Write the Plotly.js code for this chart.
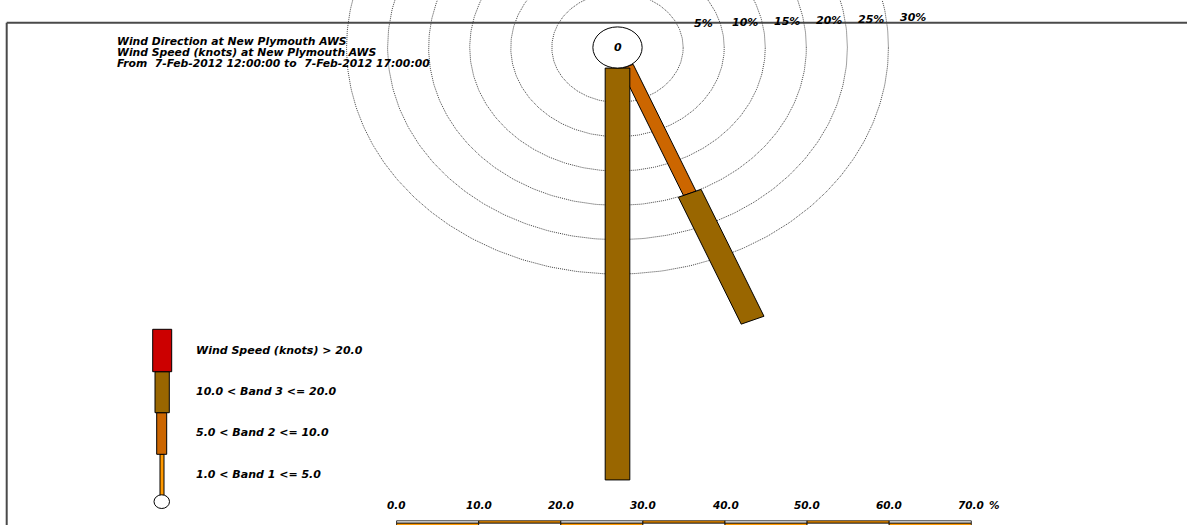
<!DOCTYPE html>
<html><head><meta charset="utf-8">
<script src="https://cdn.plot.ly/plotly-3.0.1.min.js"></script>
<style>html,body{margin:0;padding:0;background:#fff;}#chart{width:1187px;height:525px;}</style>
</head><body><div id="chart"></div>
<script>
// ---------------- data ----------------
const directions = ['N','NNE','NE','ENE','E','ESE','SE','SSE','S','SSW','SW','WSW','W','WNW','NW','NNW'];
const bearings   = [0,22.5,45,67.5,90,112.5,135,157.5,180,202.5,225,247.5,270,292.5,315,337.5];
const band1 = [0,0,0,0,0,0,0,0,0,0,0,0,0,0,0,0];
const band2 = [0,0,0,0,0,0,0,20,0,0,0,0,0,0,0,0];
const band3 = [0,0,0,0,0,0,0,20,60,0,0,0,0,0,0,0];
const band4 = [0,0,0,0,0,0,0,0,0,0,0,0,0,0,0,0];
const bandLabels = ['1.0 < Band 1 <= 5.0','5.0 < Band 2 <= 10.0','10.0 < Band 3 <= 20.0','Wind Speed (knots) > 20.0'];
const bandColors = ['#FF9900','#CC6600','#996600','#CC0000'];
const ringPercents = [5,10,15,20,25,30];
const ringLabels = ['5%','10%','15%','20%','25%','30%'];
const scaleTicks = [0,10,20,30,40,50,60,70];
const scaleLabels = ['0.0','10.0','20.0','30.0','40.0','50.0','60.0','70.0'];
const headerLines = ['Wind Direction at New Plymouth AWS','Wind Speed (knots) at New Plymouth AWS','From  7-Feb-2012 12:00:00 to  7-Feb-2012 17:00:00'];

// ---------------- geometry / style ----------------
const W=1187,H=525;
const CX=617.5, CY=47.5, SX=8.21, SY=6.864, R0=3;   // pixel centre and px per % unit
const SCALE0=396.6;                                   // pixel x of 0 on the scale bar
const bandWidths=[0.5,1.65,3.0,4.0];
const FONT='DejaVu Sans';
const bands=[band1,band2,band3,band4];
const px=x=>x/W, py=y=>1-y/H;
const ydat=y=>(CY-y)/SY;
const bi=t=>'<b><i>'+t+'</i></b>';

const traces=[];
// rings
ringPercents.forEach(p=>{
  const xs=[],ys=[];
  for(let a=0;a<=360;a+=1){const t=a*Math.PI/180;xs.push((R0+p)*Math.cos(t));ys.push((R0+p)*Math.sin(t));}
  traces.push({type:'scatter',mode:'lines',x:xs,y:ys,line:{color:'#444',width:1,dash:'1px,1px'},hoverinfo:'skip',showlegend:false});
});
// bars
directions.forEach((d,i)=>{
  const th=bearings[i]*Math.PI/180;
  const ux=Math.sin(th),uy=Math.cos(th),qx=Math.cos(th),qy=-Math.sin(th);
  let r=R0;
  bands.forEach((b,k)=>{
    const v=b[i]; if(!v) return;
    const r1=r+v, h=bandWidths[k]/2;
    const xs=[r*ux+h*qx,r1*ux+h*qx,r1*ux-h*qx,r*ux-h*qx,r*ux+h*qx];
    const ys=[r*uy+h*qy,r1*uy+h*qy,r1*uy-h*qy,r*uy-h*qy,r*uy+h*qy];
    traces.push({type:'scatter',mode:'lines',x:xs,y:ys,fill:'toself',fillcolor:bandColors[k],line:{color:'#000',width:1},name:d,hoverinfo:'skip',showlegend:false});
    r=r1;
  });
});
// scale bar (x2 axis, % units)
const rowTop=[520.8,523.2], rowBot=[523.2,527];
for(let i=0;i<scaleTicks.length-1;i++){
  const a=scaleTicks[i],b=scaleTicks[i+1];
  [[rowTop,i%2===1],[rowBot,i%2===0]].forEach(([rw,fillOn])=>{
    const y0=ydat(rw[0]),y1=ydat(rw[1]);
    traces.push({type:'scatter',mode:'lines',xaxis:'x2',yaxis:'y',x:[a,b,b,a,a],y:[y0,y0,y1,y1,y0],fill:'toself',
      fillcolor:fillOn?'#FF9900':'#FFFFFF',line:{color:'#000',width:0.8},hoverinfo:'skip',showlegend:false});
  });
}

const shapes=[
  {type:'line',xref:'paper',yref:'paper',x0:px(6.7),x1:px(1190),y0:py(22.7),y1:py(22.7),line:{color:'#4a4a4a',width:2}},
  {type:'line',xref:'paper',yref:'paper',x0:px(6.7),x1:px(6.7),y0:py(22.7),y1:py(530),line:{color:'#4a4a4a',width:2}},
  {type:'circle',xref:'x',yref:'y',x0:-R0,x1:R0,y0:-R0,y1:R0,fillcolor:'#fff',line:{color:'#000',width:1},layer:'above'}
];
// legend swatches
const legRects=[[160,164,454.3,496.7],[156.7,166.7,412.7,454.3],[155,169.3,371.7,412.7],[152.7,171.7,329.3,371.7]];
legRects.forEach((r,k)=>shapes.push({type:'rect',xref:'paper',yref:'paper',x0:px(r[0]),x1:px(r[1]),y0:py(r[3]),y1:py(r[2]),fillcolor:bandColors[k],line:{color:'#000',width:1}}));
shapes.push({type:'circle',xref:'paper',yref:'paper',x0:px(154),x1:px(169.5),y0:py(508.5),y1:py(494.8),fillcolor:'#fff',line:{color:'#000',width:1}});

const ann=[];
const A=(x,y,t,size,xa,extra)=>Object.assign({xref:'paper',yref:'paper',x:px(x),y:py(y),text:bi(t),showarrow:false,xanchor:xa||'left',yanchor:'middle',
  font:{family:FONT,size:size,color:'#000'}},extra||{});
headerLines.forEach((t,i)=>ann.push(A(115,[41.7,52.5,63.3][i],t,10.8)));
const legY=[474.3,432.7,391,350];
bandLabels.forEach((t,k)=>ann.push(A(194,legY[k],t,11)));
// ring labels
ringPercents.forEach((p,i)=>{
  const xc=CX+(R0+p)*SX+20+(p-5)*0.2, yc=24-(p-5)*0.25;
  ann.push(A(xc,yc,ringLabels[i],11,'center'));
});
// centre label
ann.push({xref:'x',yref:'y',x:0,y:0,text:bi('0'),showarrow:false,font:{family:FONT,size:11,color:'#000'}});
// scale labels
scaleTicks.forEach((v,i)=>ann.push({xref:'x2',yref:'paper',x:v,y:py(505),text:bi(scaleLabels[i]),showarrow:false,xanchor:'center',yanchor:'middle',font:{family:FONT,size:10.5,color:'#000'}}));
ann.push(A(995,505,'%',10.5,'center'));

const layout={
  width:W,height:H,margin:{l:0,r:0,t:0,b:0,pad:0},paper_bgcolor:'#fff',plot_bgcolor:'#fff',showlegend:false,
  xaxis:{range:[-CX/SX,(W-CX)/SX],visible:false,fixedrange:true},
  xaxis2:{range:[-SCALE0/SX,(W-SCALE0)/SX],visible:false,overlaying:'x',fixedrange:true},
  yaxis:{range:[-(H-CY)/SY,CY/SY],visible:false,fixedrange:true},
  shapes:shapes,annotations:ann
};
Plotly.newPlot('chart',traces,layout,{displayModeBar:false,staticPlot:true});
</script></body></html>
